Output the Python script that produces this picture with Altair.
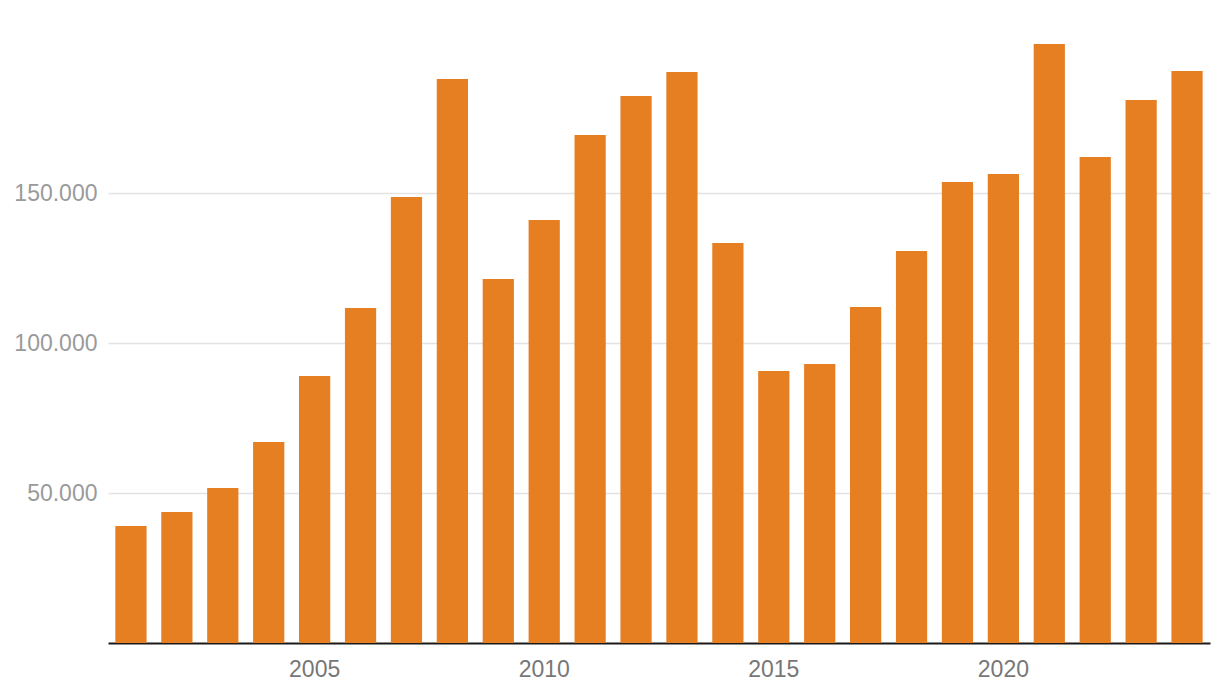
import altair as alt
import pandas as pd

years = [2001, 2002, 2003, 2004, 2005, 2006, 2007, 2008, 2009, 2010, 2011, 2012,
         2013, 2014, 2015, 2016, 2017, 2018, 2019, 2020, 2021, 2022, 2023, 2024]
values = [39000, 43700, 51700, 67000, 89000, 111700, 148700, 188000, 121300, 141000, 169300, 182300,
          190300, 133300, 90700, 93000, 112000, 130700, 153700, 156300, 199700, 162000, 181000, 190700]
y_ticks = [50000, 100000, 150000]

df = pd.DataFrame({"year": [str(y) for y in years], "value": values})

chart = alt.Chart(df).mark_bar(color="#E67E22").encode(
    x=alt.X("year:O",
            scale=alt.Scale(paddingInner=0.32, paddingOuter=0.16),
            axis=alt.Axis(title=None, labelAngle=0, ticks=False, domain=True,
                          domainColor="#1a1a1a", domainWidth=2,
                          labelExpr="toNumber(datum.value) % 5 == 0 ? datum.value : ''",
                          labelColor="#777777", labelFontSize=23, labelPadding=15,
                          labelFont="Liberation Sans", grid=False)),
    y=alt.Y("value:Q",
            scale=alt.Scale(domain=[0, 200000], nice=False),
            axis=alt.Axis(title=None, values=y_ticks, ticks=False, domain=False,
                          labelExpr="replace(format(datum.value, ',d'), ',', '.')",
                          labelColor="#9a9a9a", labelFontSize=23, labelPadding=11,
                          labelFont="Liberation Sans", gridColor="#e3e3e3", gridWidth=1.5)),
).properties(
    width=1102,
    height=600,
    autosize=alt.AutoSizeParams(type="none"),
    padding={"left": 100, "top": 35, "right": 2, "bottom": 45},
).configure_view(stroke=None)

chart.save("out.html", embed_options={"renderer": "svg", "actions": False})
